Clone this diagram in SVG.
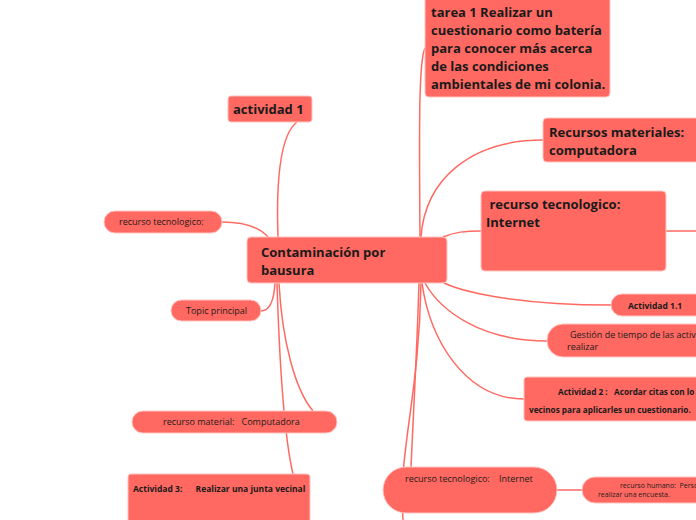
<svg xmlns="http://www.w3.org/2000/svg" width="696" height="520" viewBox="0 0 696 520">
<style>
.n{fill:#ff6961;stroke:#ffc4c0;stroke-width:1}
.c path{fill:none;stroke:#ff6961;stroke-width:1.5}
text{font-family:"Open Sans","DejaVu Sans",sans-serif;fill:#1a1a1a;white-space:pre}
.b13{font-size:13px;font-weight:bold}
.r9{font-size:9px}
.b9{font-size:8.5px;font-weight:bold}
</style>
<rect width="696" height="520" fill="#ffffff"/>
<g class="c" id="connectors">
<path d="M420,237 C419,120 419,60 425,48"/>
<path d="M421,237 C425,180 470,140 543,140"/>
<path d="M443,237 C455,232 465,231 481,231"/>
<path d="M666,231 L696,231"/>
<path d="M444,283 C470,295 530,305 611,305"/>
<path d="M425,283 C440,310 480,341 547,341"/>
<path d="M422,283 C430,340 465,399 524,399"/>
<path d="M419,283 C417,350 413,420 411,468"/>
<path d="M421,283 C419,400 398,450 403,520"/>
<path d="M557,490 L583,490"/>
<path d="M278,237 C276,180 280,135 297,122"/>
<path d="M268,237 C260,228 245,222 222,222"/>
<path d="M275,283 C274,300 270,311 261,311"/>
<path d="M279,283 C282,340 295,390 313,411"/>
<path d="M277,283 C280,380 285,440 293,474"/>
</g>
<g id="central">
<rect class="n" x="247" y="237" width="200" height="46" rx="4"/>
<text class="b13" x="261" y="257">Contaminación por</text>
<text class="b13" x="261" y="275">bausura</text>
</g>
<g id="tarea1">
<rect class="n" x="425" y="-6" width="185" height="103" rx="4"/>
<text class="b13" x="431" y="17">tarea 1 Realizar un</text>
<text class="b13" x="431" y="35">cuestionario como batería</text>
<text class="b13" x="431" y="53">para conocer más acerca</text>
<text class="b13" x="431" y="71">de las condiciones</text>
<text class="b13" x="431" y="89">ambientales de mi colonia.</text>
</g>
<g id="recursos-materiales">
<rect class="n" x="543" y="118" width="170" height="44" rx="4"/>
<text class="b13" x="549" y="137">Recursos materiales:</text>
<text class="b13" x="549" y="155">computadora</text>
</g>
<g id="recurso-tec-internet">
<rect class="n" x="481" y="191" width="185" height="80" rx="4"/>
<text class="b13" x="486" y="209"> recurso tecnologico:</text>
<text class="b13" x="486" y="227">Internet</text>
</g>
<g id="actividad11">
<rect class="n" x="611" y="294" width="100" height="22" rx="11"/>
<text class="b9" x="628" y="309">Actividad 1.1</text>
</g>
<g id="gestion">
<rect class="n" x="547" y="324" width="170" height="33" rx="16"/>
<text style="font-size:9px" x="570" y="338">Gestión de tiempo de las activ</text>
<text style="font-size:9px" x="567" y="350">realizar</text>
</g>
<g id="actividad2">
<rect class="n" x="524" y="377" width="190" height="44" rx="3"/>
<text style="font-size:8.2px;font-weight:bold" x="558" y="395">Actividad 2 :   Acordar citas con lo</text>
<text style="font-size:8.2px;font-weight:bold" x="529" y="413">vecinos para aplicarles un cuestionario.</text>
</g>
<g id="recurso-tec-internet-2">
<rect class="n" x="383" y="467" width="174" height="46" rx="23"/>
<text class="r9" x="405" y="482">recurso tecnologico:    Internet</text>
</g>
<g id="recurso-humano">
<rect class="n" x="582" y="477" width="130" height="26" rx="13"/>
<text style="font-size:7px" x="620" y="488">recurso humano:  Perso</text>
<text style="font-size:7px" x="598" y="497">realizar una encuesta.</text>
</g>
<g id="actividad1">
<rect class="n" x="228" y="96" width="84" height="26" rx="3"/>
<text class="b13" x="233" y="114">actividad 1</text>
</g>
<g id="recurso-tec-left">
<rect class="n" x="104" y="211" width="118" height="22" rx="11"/>
<text class="r9" x="119" y="225">recurso tecnologico:</text>
</g>
<g id="topic">
<rect class="n" x="171" y="300" width="90" height="21" rx="10.5"/>
<text class="r9" x="186" y="314">Topic principal</text>
</g>
<g id="recurso-material">
<rect class="n" x="132" y="411" width="205" height="22" rx="11"/>
<text class="r9" x="163" y="425">recurso material:   Computadora</text>
</g>
<g id="actividad3">
<rect class="n" x="128" y="474" width="182" height="60" rx="3"/>
<text class="b9" x="133" y="492">Actividad 3:      Realizar una junta vecinal</text>
</g>
</svg>
